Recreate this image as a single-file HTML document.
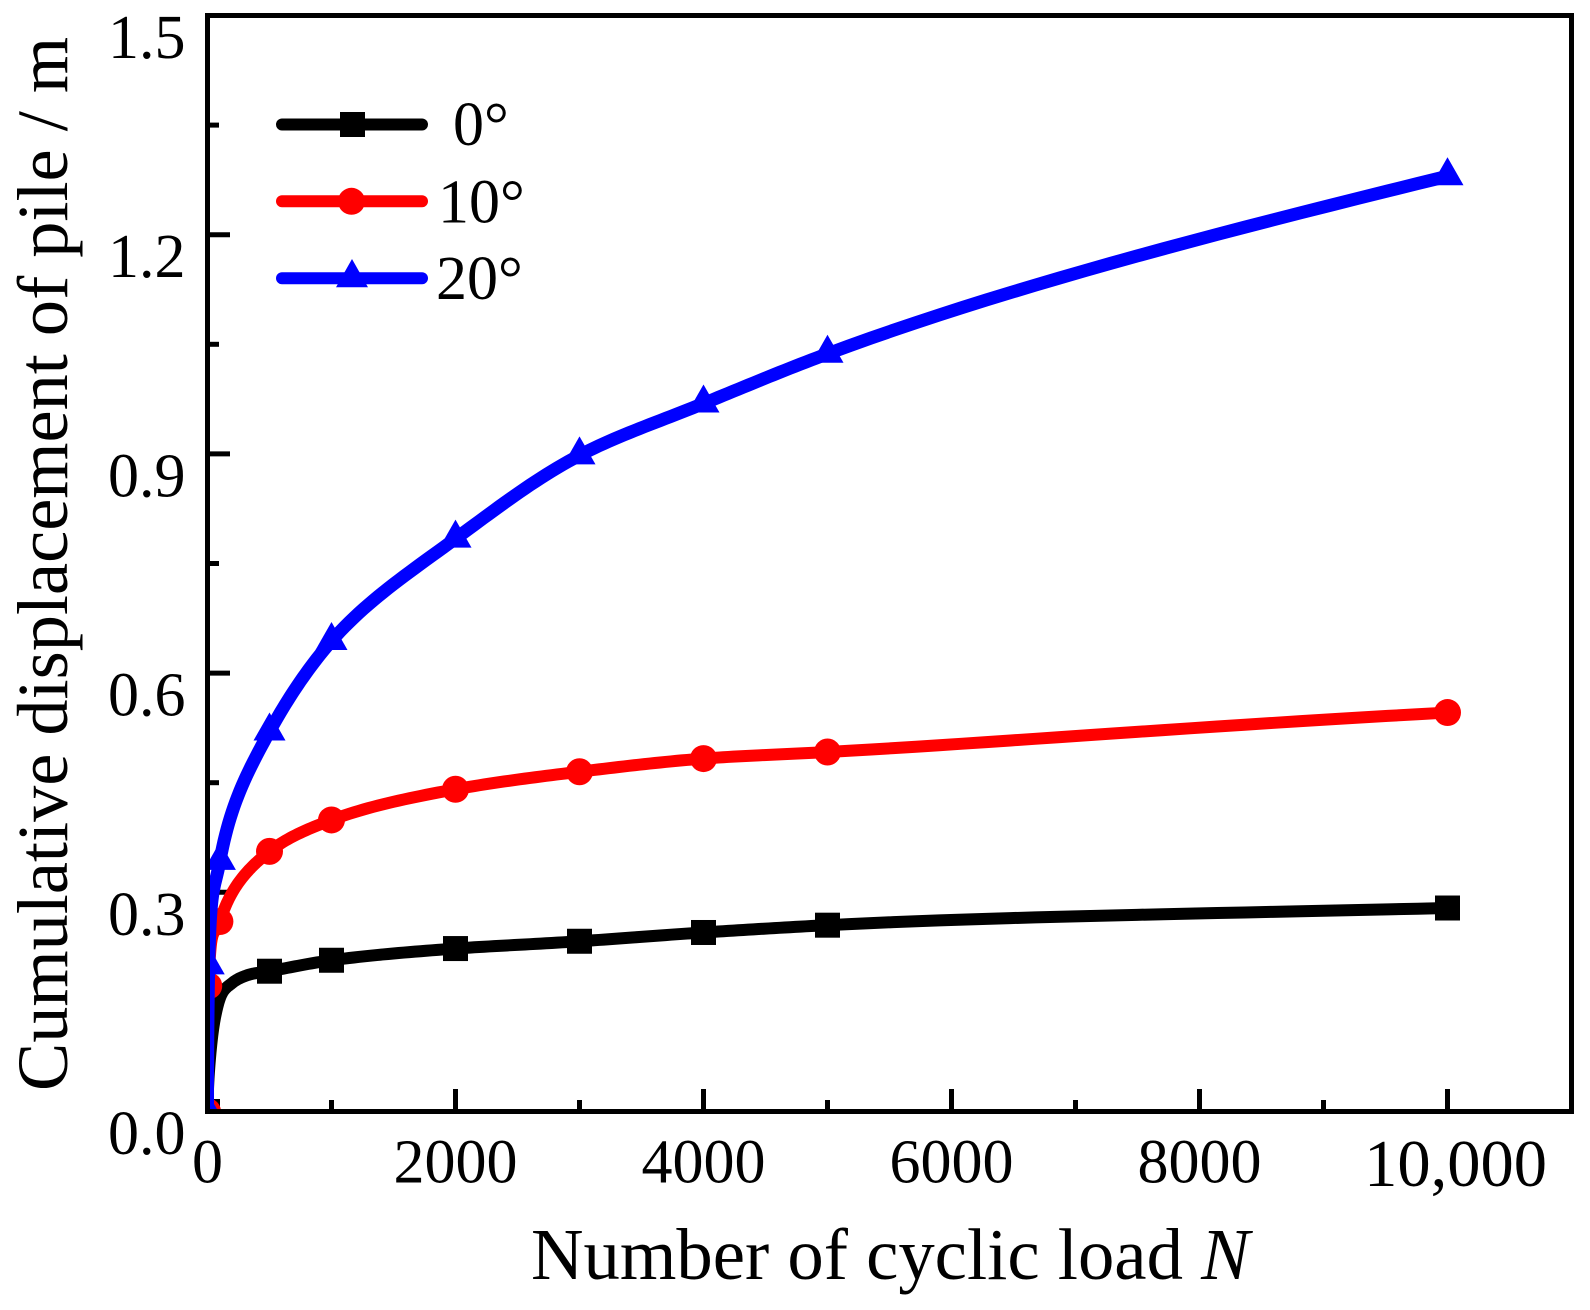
<!DOCTYPE html>
<html lang="en">
<head>
<meta charset="utf-8">
<title>Cumulative displacement of pile</title>
<style>
html,body{margin:0;padding:0;background:#fff;}
body{width:1590px;height:1310px;overflow:hidden;}
svg{display:block;}
text{font-family:"Liberation Serif",serif;fill:#000;}
</style>
</head>
<body>
<svg id="chart" xmlns="http://www.w3.org/2000/svg" width="1590" height="1310" viewBox="0 0 1590 1310">
  <defs>
    <clipPath id="plot-clip"><rect x="208" y="18" width="1361" height="1091"/></clipPath>
  </defs>
  <rect width="1590" height="1310" fill="#fff"/>
  <g id="ticks"></g>
  <g id="series" clip-path="url(#plot-clip)"></g>
  <rect x="207.5" y="15.5" width="1364" height="1096" fill="none" stroke="#000" stroke-width="5"/>
  <g id="tick-labels"></g>
  <text x="531" y="1279" font-size="72.7">Number of cyclic load <tspan font-style="italic">N</tspan></text>
  <text transform="translate(67 1091) rotate(-90)" font-size="72.3">Cumulative displacement of pile / m</text>
  <g>
    <g>
      <line x1="282" x2="422" y1="124.5" y2="124.5" stroke="#000" stroke-width="12" stroke-linecap="round"/>
      <rect x="340" y="112" width="25" height="25" fill="#000"/>
      <text x="453" y="145" font-size="62">0°</text>
    </g>
    <g>
      <line x1="282" x2="422" y1="201.3" y2="201.3" stroke="#f00" stroke-width="12" stroke-linecap="round"/>
      <circle cx="351.5" cy="201.3" r="13.5" fill="#f00"/>
      <text x="438" y="222.5" font-size="62">10°</text>
    </g>
    <g>
      <line x1="282" x2="422" y1="278.3" y2="278.3" stroke="#00f" stroke-width="12" stroke-linecap="round"/>
      <polygon points="352,259 368,287.3 336,287.3" fill="#00f"/>
      <text x="436" y="299" font-size="62">20°</text>
    </g>
  </g>
</svg>
<script>
// Chart data
var xMajorTicks = [0, 2000, 4000, 6000, 8000, 10000];
var xMinorTicks = [1000, 3000, 5000, 7000, 9000];
var xTickLabels = ["0", "2000", "4000", "6000", "8000", "10,000"];
var yMajorTicks = [0, 0.3, 0.6, 0.9, 1.2, 1.5];
var yMinorTicks = [0.15, 0.45, 0.75, 1.05, 1.35];
var yTickLabels = ["0.0", "0.3", "0.6", "0.9", "1.2", "1.5"];

var cyclesBlack = [0, 10, 60, 100, 200, 330, 500, 1000, 2000, 3000, 4000, 5000, 10000];
var displacementBlack = [0, 0.05, 0.128, 0.155, 0.176, 0.187, 0.192, 0.207, 0.223, 0.233, 0.245, 0.255, 0.2785];
var markerCyclesBlack = [0, 500, 1000, 2000, 3000, 4000, 5000, 10000];

var cyclesRed = [0, 10, 100, 500, 1000, 2000, 3000, 4000, 5000, 10000];
var displacementRed = [0, 0.172, 0.26, 0.356, 0.399, 0.441, 0.465, 0.483, 0.492, 0.546];

var cyclesBlue = [0, 10, 100, 500, 1000, 2000, 3000, 4000, 5000, 10000];
var displacementBlue = [0, 0.2, 0.343, 0.52, 0.644, 0.784, 0.898, 0.969, 1.037, 1.28];

// Axis functions
var xMax = 11000;
var yMax = 1.5;
function xScale(n) { return 207.5 + n / xMax * 1364; }
function yScale(v) { return 1111.5 - v / yMax * 1096; }

var NS = "http://www.w3.org/2000/svg";
function make(tag, parent) {
  var el = document.createElementNS(NS, tag);
  parent.appendChild(el);
  return el;
}

// Smooth curve: cubic Hermite spline in sqrt(N), drawn through the data points
function smoothPath(cycles, values) {
  var t = cycles.map(Math.sqrt), n = t.length, d = [], m = [], i, j;
  for (i = 0; i < n - 1; i++) d.push((values[i + 1] - values[i]) / (t[i + 1] - t[i]));
  m[0] = d[0];
  m[n - 1] = d[n - 2];
  for (i = 1; i < n - 1; i++) {
    var h0 = t[i] - t[i - 1], h1 = t[i + 1] - t[i];
    m[i] = (h1 * d[i - 1] + h0 * d[i]) / (h0 + h1);
  }
  var p = "M" + xScale(cycles[0]).toFixed(2) + " " + yScale(values[0]).toFixed(2);
  for (i = 0; i < n - 1; i++) {
    var h = t[i + 1] - t[i];
    for (j = 1; j <= 24; j++) {
      var s = j / 24, s2 = s * s, s3 = s2 * s;
      var v = (2 * s3 - 3 * s2 + 1) * values[i] + (s3 - 2 * s2 + s) * h * m[i] +
              (-2 * s3 + 3 * s2) * values[i + 1] + (s3 - s2) * h * m[i + 1];
      var tt = t[i] + s * h;
      p += "L" + xScale(tt * tt).toFixed(2) + " " + yScale(v).toFixed(2);
    }
  }
  return p;
}

var ticksGroup = document.getElementById("ticks");
var labelsGroup = document.getElementById("tick-labels");
var seriesGroup = document.getElementById("series");

function addTick(x1, y1, x2, y2, name) {
  var t = make("line", ticksGroup);
  
  
  t.setAttribute("x1", x1);
  t.setAttribute("y1", y1);
  t.setAttribute("x2", x2);
  t.setAttribute("y2", y2);
  t.setAttribute("stroke", "#000");
  t.setAttribute("stroke-width", "5");
}

xMajorTicks.forEach(function (n, i) {
  addTick(xScale(n), 1111.5, xScale(n), 1089, "x-major-tick");
  var label = make("text", labelsGroup);
  
  
  var last = i === xMajorTicks.length - 1;
  label.setAttribute("x", xScale(n) + (last ? 8 : 0));
  label.setAttribute("y", last ? 1186 : 1182.5);
  label.setAttribute("font-size", last ? 66.5 : 62);
  label.setAttribute("text-anchor", "middle");
  label.textContent = xTickLabels[i];
});
xMinorTicks.forEach(function (n) {
  addTick(xScale(n), 1111.5, xScale(n), 1100, "x-minor-tick");
});
yMajorTicks.forEach(function (v, i) {
  addTick(207.5, yScale(v), 230, yScale(v), "y-major-tick");
  var label = make("text", labelsGroup);
  
  
  label.setAttribute("x", 185.5);
  label.setAttribute("y", yScale(v) + 42.5);
  label.setAttribute("font-size", 62);
  label.setAttribute("text-anchor", "end");
  label.textContent = yTickLabels[i];
});
yMinorTicks.forEach(function (v) {
  addTick(207.5, yScale(v), 219, yScale(v), "y-minor-tick");
});

function drawCurve(cycles, values, color, width, name) {
  var c = make("path", seriesGroup);
  
  
  c.setAttribute("d", smoothPath(cycles, values));
  c.setAttribute("fill", "none");
  c.setAttribute("stroke", color);
  c.setAttribute("stroke-width", width);
  c.setAttribute("stroke-linejoin", "round");
}

// Black series: square markers
drawCurve(cyclesBlack, displacementBlack, "#000", 12, "series-0-degrees-line");
markerCyclesBlack.forEach(function (n) {
  var v = displacementBlack[cyclesBlack.indexOf(n)];
  var s = make("rect", seriesGroup);
  
  
  s.setAttribute("x", xScale(n) - 12.5);
  s.setAttribute("y", yScale(v) - 12.5);
  s.setAttribute("width", 25);
  s.setAttribute("height", 25);
  s.setAttribute("fill", "#000");
});

// Red series: circle markers
drawCurve(cyclesRed, displacementRed, "#f00", 12, "series-10-degrees-line");
cyclesRed.forEach(function (n, i) {
  var c = make("circle", seriesGroup);
  
  
  c.setAttribute("cx", xScale(n));
  c.setAttribute("cy", yScale(displacementRed[i]));
  c.setAttribute("r", 13.5);
  c.setAttribute("fill", "#f00");
});

// Blue series: triangle markers
drawCurve(cyclesBlue, displacementBlue, "#00f", 13, "series-20-degrees-line");
cyclesBlue.forEach(function (n, i) {
  var x = xScale(n), y = yScale(displacementBlue[i]);
  var t = make("polygon", seriesGroup);
  
  
  t.setAttribute("points", x + "," + (y - 19) + " " + (x + 16) + "," + (y + 9) + " " + (x - 16) + "," + (y + 9));
  t.setAttribute("fill", "#00f");
});
</script>
</body>
</html>
